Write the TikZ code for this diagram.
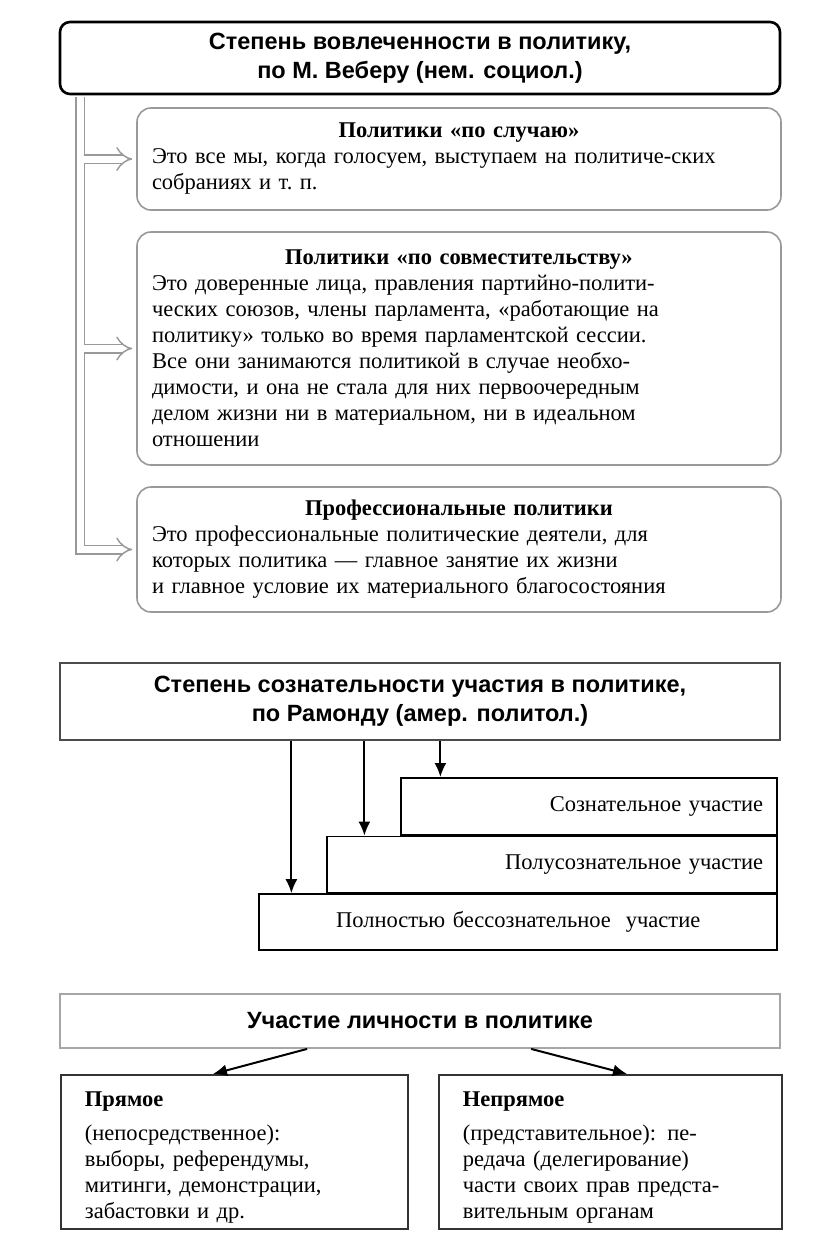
\documentclass[tikz,border=0pt]{standalone}
\usepackage{fontspec}
\setmainfont{Liberation Serif}
\newfontfamily\headfont{Liberation Sans}
\usetikzlibrary{arrows.meta,positioning,calc}

\begin{document}
\begin{tikzpicture}[x=1pt,y=-1pt,every node/.style={font=\fontsize{22.5}{26}\selectfont},
  head/.style={font=\headfont\bfseries\fontsize{23.5}{29}\selectfont,align=center,minimum width=720pt,inner sep=0pt},
  kind/.style={draw=black!40,line width=1.6pt,rounded corners=14pt,minimum width=644pt,text width=614pt,inner xsep=15pt,align=left},
  stepbox/.style={draw,line width=1.6pt,anchor=north east,inner xsep=14pt,align=right},
  partbox/.style={draw=black!80,line width=1.8pt,anchor=north west,minimum height=154pt,inner xsep=24pt,align=left},
  hollow/.style={draw=black!40,line width=1.5pt,double=white,double distance=7pt,-{Implies[length=13pt,width=22pt]},shorten >=4pt},
  arr/.style={line width=2pt,-{Latex[length=14pt,width=12pt]}}]
\useasboundingbox (0,0) rectangle (816,1256);
\node[head,draw,line width=2.6pt,rounded corners=10pt,minimum height=72pt] (deg) at (420,58) {Степень вовлеченности в политику,\\по М. Веберу (нем. социол.)};
\node[kind,minimum height=102pt] (occ) at (459,159) {{\centering\textbf{Политики «по случаю»}\par}Это все мы, когда голосуем, выступаем на политиче-ских\\собраниях и т.~п.};
\node[kind,minimum height=233pt] (parttime) at (459,348.5) {{\centering\textbf{Политики «по совместительству»}\par}Это доверенные лица, правления партийно-полити-\\ческих союзов, члены парламента, «работающие на\\политику» только во время парламентской сессии.\\Все они занимаются политикой в случае необхо-\\димости, и она не стала для них первоочередным\\делом жизни ни в материальном, ни в идеальном\\отношении};
\node[kind,minimum height=125pt] (pro) at (459,549.5) {{\centering\textbf{Профессиональные политики}\par}Это профессиональные политические деятели, для\\которых политика — главное занятие их жизни\\и главное условие их материального благосостояния};
\coordinate (tx) at (80,0);
\draw[hollow] ([yshift=-1.3pt]tx |- deg.south) |- (pro.west);
\draw[hollow] ([xshift=3.5pt]tx |- occ.west) -- (occ.west);
\draw[hollow] ([xshift=3.5pt]tx |- parttime.west) -- (parttime.west);

\node[head,draw=black!70,line width=1.8pt,minimum height=77pt] (cons) at (420,701.5) {Степень сознательности участия в политике,\\по Рамонду (амер. политол.)};
\node[stepbox,minimum width=376pt,minimum height=57pt,text width=348pt] (conscious) at (778,777) {Сознательное участие};
\node[stepbox,minimum width=450pt,minimum height=56pt,text width=422pt] (semi) at (conscious.south east) {Полусознательное участие};
\node[stepbox,minimum width=518pt,minimum height=56pt,text width=490pt,align=center] (uncons) at (semi.south east) {Полностью бессознательное \ участие};
\coordinate (a1) at ([xshift=33pt]uncons.north west);
\coordinate (a2) at ([xshift=38pt]semi.north west);
\coordinate (a3) at ([xshift=40pt]conscious.north west);
\draw[arr] (a1 |- cons.south) -- (a1);
\draw[arr] (a2 |- cons.south) -- (a2);
\draw[arr] (a3 |- cons.south) -- (a3);

\node[head,draw=black!35,line width=1.8pt,minimum height=54pt] (part) at (420,1021) {Участие личности в политике};
\node[partbox,minimum width=347pt,text width=299pt] (direct) at (60,1074) {\rule{0pt}{26pt}\textbf{Прямое}\\[8pt](непосредственное):\\выборы, референдумы,\\митинги, демонстрации,\\забастовки и др.};
\node[partbox,minimum width=343pt,text width=295pt] (indirect) at (438,1074) {\rule{0pt}{26pt}\textbf{Непрямое}\\[8pt](представительное): пе-\\редача (делегирование)\\части своих прав предста-\\вительным органам};
\draw[arr] ([xshift=248pt]part.south west) -- ([xshift=153pt]direct.north west);
\draw[arr] ([xshift=472pt]part.south west) -- ([xshift=189pt]indirect.north west);
\end{tikzpicture}
\end{document}
